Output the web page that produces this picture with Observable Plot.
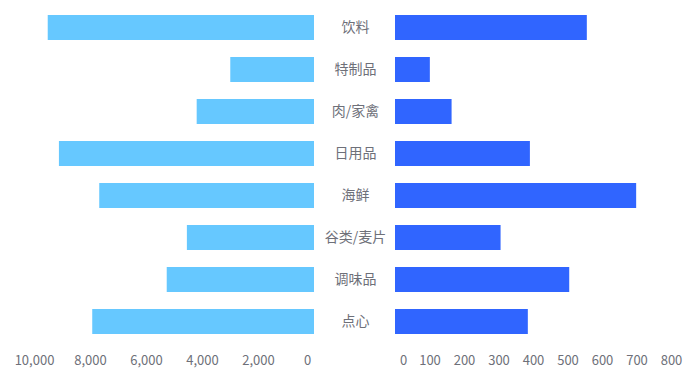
<!DOCTYPE html>
<html>
<head>
<meta charset="utf-8">
<script src="https://cdn.jsdelivr.net/npm/d3@7"></script>
<script src="https://cdn.jsdelivr.net/npm/@observablehq/plot@0.6"></script>
<style>
  html, body { margin: 0; padding: 0; background: #fff; }
  #chart { display: flex; width: 695px; height: 382px; font-family: "Noto Sans CJK SC", "Noto Sans", sans-serif; }
  #chart svg { overflow: visible; }
</style>
</head>
<body>
<div id="chart"></div>
<script>
const categories = ["饮料", "特制品", "肉/家禽", "日用品", "海鲜", "谷类/麦片", "调味品", "点心"];
const leftValues = [9510, 2990, 4190, 9110, 7670, 4540, 5260, 7920];
const rightValues = [556, 101, 164, 391, 699, 306, 505, 385];
const leftTicks = [2000, 4000, 6000, 8000, 10000];
const rightTicks = [100, 200, 300, 400, 500, 600, 700, 800];
const zeroTick = [0];

const leftColor = "#66c8ff";
const rightColor = "#3065ff";
const textColor = "#6e7079";

const leftData = categories.map((c, i) => ({category: c, value: leftValues[i]}));
const rightData = categories.map((c, i) => ({category: c, value: rightValues[i]}));

const H = 382, MT = 4.5, MB = 38;
const yScale = {domain: categories, paddingInner: 0.41, paddingOuter: 0.205, axis: null};
const fmt = d3.format(",");
const font = "Noto Sans CJK SC, sans-serif";

const left = Plot.plot({
  width: 320, height: H,
  marginLeft: 34, marginRight: 6, marginTop: MT, marginBottom: MB,
  style: {fontSize: "13px", fontFamily: font, color: textColor, overflow: "visible"},
  x: {domain: [0, 10000], reverse: true, label: null},
  y: yScale,
  marks: [
    Plot.barX(leftData, {y: "category", x: "value", fill: leftColor}),
    Plot.axisX(leftTicks, {tickFormat: fmt, tickSize: 0, tickPadding: 11, label: null, fill: textColor, fontSize: 13}),
    Plot.axisX(zeroTick, {tickFormat: fmt, tickSize: 0, tickPadding: 11, label: null, dx: -7, fill: textColor, fontSize: 13})
  ]
});

const middle = Plot.plot({
  width: 70, height: H,
  marginLeft: 0, marginRight: 0, marginTop: MT, marginBottom: MB,
  style: {fontSize: "14px", fontFamily: font, color: textColor, overflow: "visible"},
  x: {axis: null},
  y: yScale,
  marks: [
    Plot.text(categories, {y: d => d, text: d => d, frameAnchor: "middle", fill: textColor, fontSize: 14})
  ]
});

const right = Plot.plot({
  width: 305, height: H,
  marginLeft: 5, marginRight: 24, marginTop: MT, marginBottom: MB,
  style: {fontSize: "13px", fontFamily: font, color: textColor, overflow: "visible"},
  x: {domain: [0, 800], label: null},
  y: yScale,
  marks: [
    Plot.barX(rightData, {y: "category", x: "value", fill: rightColor}),
    Plot.axisX(rightTicks, {tickFormat: fmt, tickSize: 0, tickPadding: 11, label: null, fill: textColor, fontSize: 13}),
    Plot.axisX(zeroTick, {tickFormat: fmt, tickSize: 0, tickPadding: 11, label: null, dx: 8, fill: textColor, fontSize: 13})
  ]
});

const chart = document.getElementById("chart");
chart.append(left, middle, right);
</script>
</body>
</html>
